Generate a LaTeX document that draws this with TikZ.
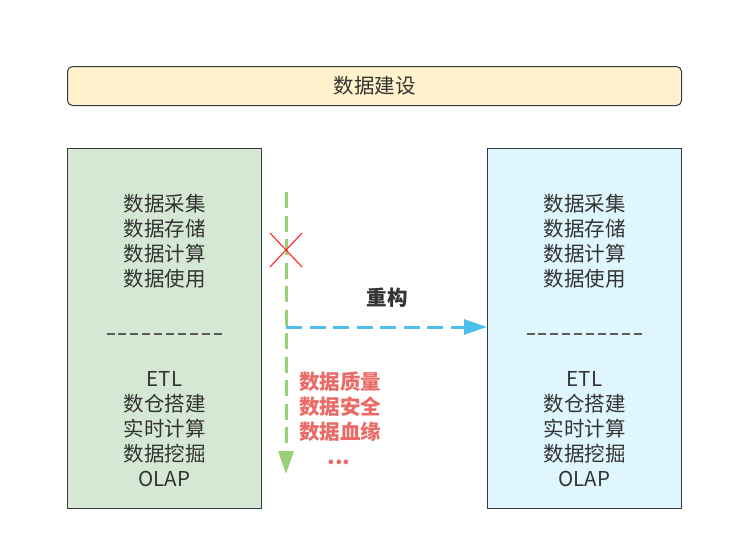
\documentclass[tikz,border=0pt]{standalone}
\usepackage{fontspec}
\setmainfont{Noto Sans CJK SC}
\usetikzlibrary{arrows.meta}
\definecolor{txt}{HTML}{333333}
\definecolor{edge}{HTML}{36393D}
\definecolor{topfill}{HTML}{FFF2CC}
\definecolor{greenfill}{HTML}{D5E8D4}
\definecolor{bluefill}{HTML}{DFF6FF}
\definecolor{garrow}{HTML}{97D077}
\definecolor{barrow}{HTML}{4DBFEC}
\definecolor{redtxt}{HTML}{EA6B66}
\definecolor{redx}{HTML}{FF3333}
\tikzset{
  box/.style={draw=edge, line width=1pt, anchor=north west, inner sep=0pt},
  lbl/.style={text=txt, font=\fontsize{20.5}{25}\selectfont, align=center, inner sep=0pt},
  flow/.style={line width=3pt, dash pattern=on 16pt off 7.5pt, -{Triangle[length=23pt,width=15pt]}},
}
\begin{document}
\begin{tikzpicture}[x=1pt,y=-1pt]
\useasboundingbox (0,0) rectangle (755,544);
\node[box, fill=topfill, rounded corners=5pt, minimum width=614pt, minimum height=39pt] (top) at (67,66) {};
\node[lbl] (toptxt) at (top.center) {数据建设};
\node[box, fill=greenfill, minimum width=194pt, minimum height=360pt] (left) at (67,148) {};
\node[box, fill=bluefill, minimum width=194pt, minimum height=360pt] (right) at (487,148) {};
\foreach \b in {left,right}{
  \node[lbl, anchor=center] (\b a) at ([yshift=-93pt]\b.north) {数据采集\\数据存储\\数据计算\\数据使用};
  \coordinate (\b ds) at ([xshift=-58pt,yshift=-185.5pt]\b.north);
  \coordinate (\b de) at ([xshift=60pt,yshift=-185.5pt]\b.north);
  \draw[txt!80, line width=2pt, dash pattern=on 8pt off 3.9pt] (\b ds) -- (\b de);
  \node[lbl, anchor=center] (\b b) at ([yshift=-281pt]\b.north) {ETL\\数仓搭建\\实时计算\\数据挖掘\\OLAP};
}
\coordinate (gs) at (286,192);
\coordinate (ge) at (286,474);
\coordinate (bs) at (286,327);
\draw[garrow, flow] (gs) -- (ge);
\draw[barrow, flow] (bs) -- (right.west |- bs);
\coordinate (xc) at (286,250);
\draw[redx, line width=1.2pt] ([shift={(-16,-17)}]xc) -- ([shift={(16,17)}]xc);
\draw[redx, line width=1.2pt] ([shift={(-16,17)}]xc) -- ([shift={(16,-17)}]xc);
\node[text=txt, font=\fontsize{20.5}{25}\selectfont\bfseries, inner sep=0pt] (rc) at (387,298) {重构};
\node[text=redtxt, font=\fontsize{20.5}{25}\selectfont\bfseries, align=left, anchor=west, inner sep=0pt] (red) at (299,407) {数据质量\\数据安全\\数据血缘};
\node[text=redtxt, font=\fontsize{22}{25}\selectfont\bfseries, inner sep=0pt] (dots) at (339,462) {...};
\end{tikzpicture}
\end{document}
